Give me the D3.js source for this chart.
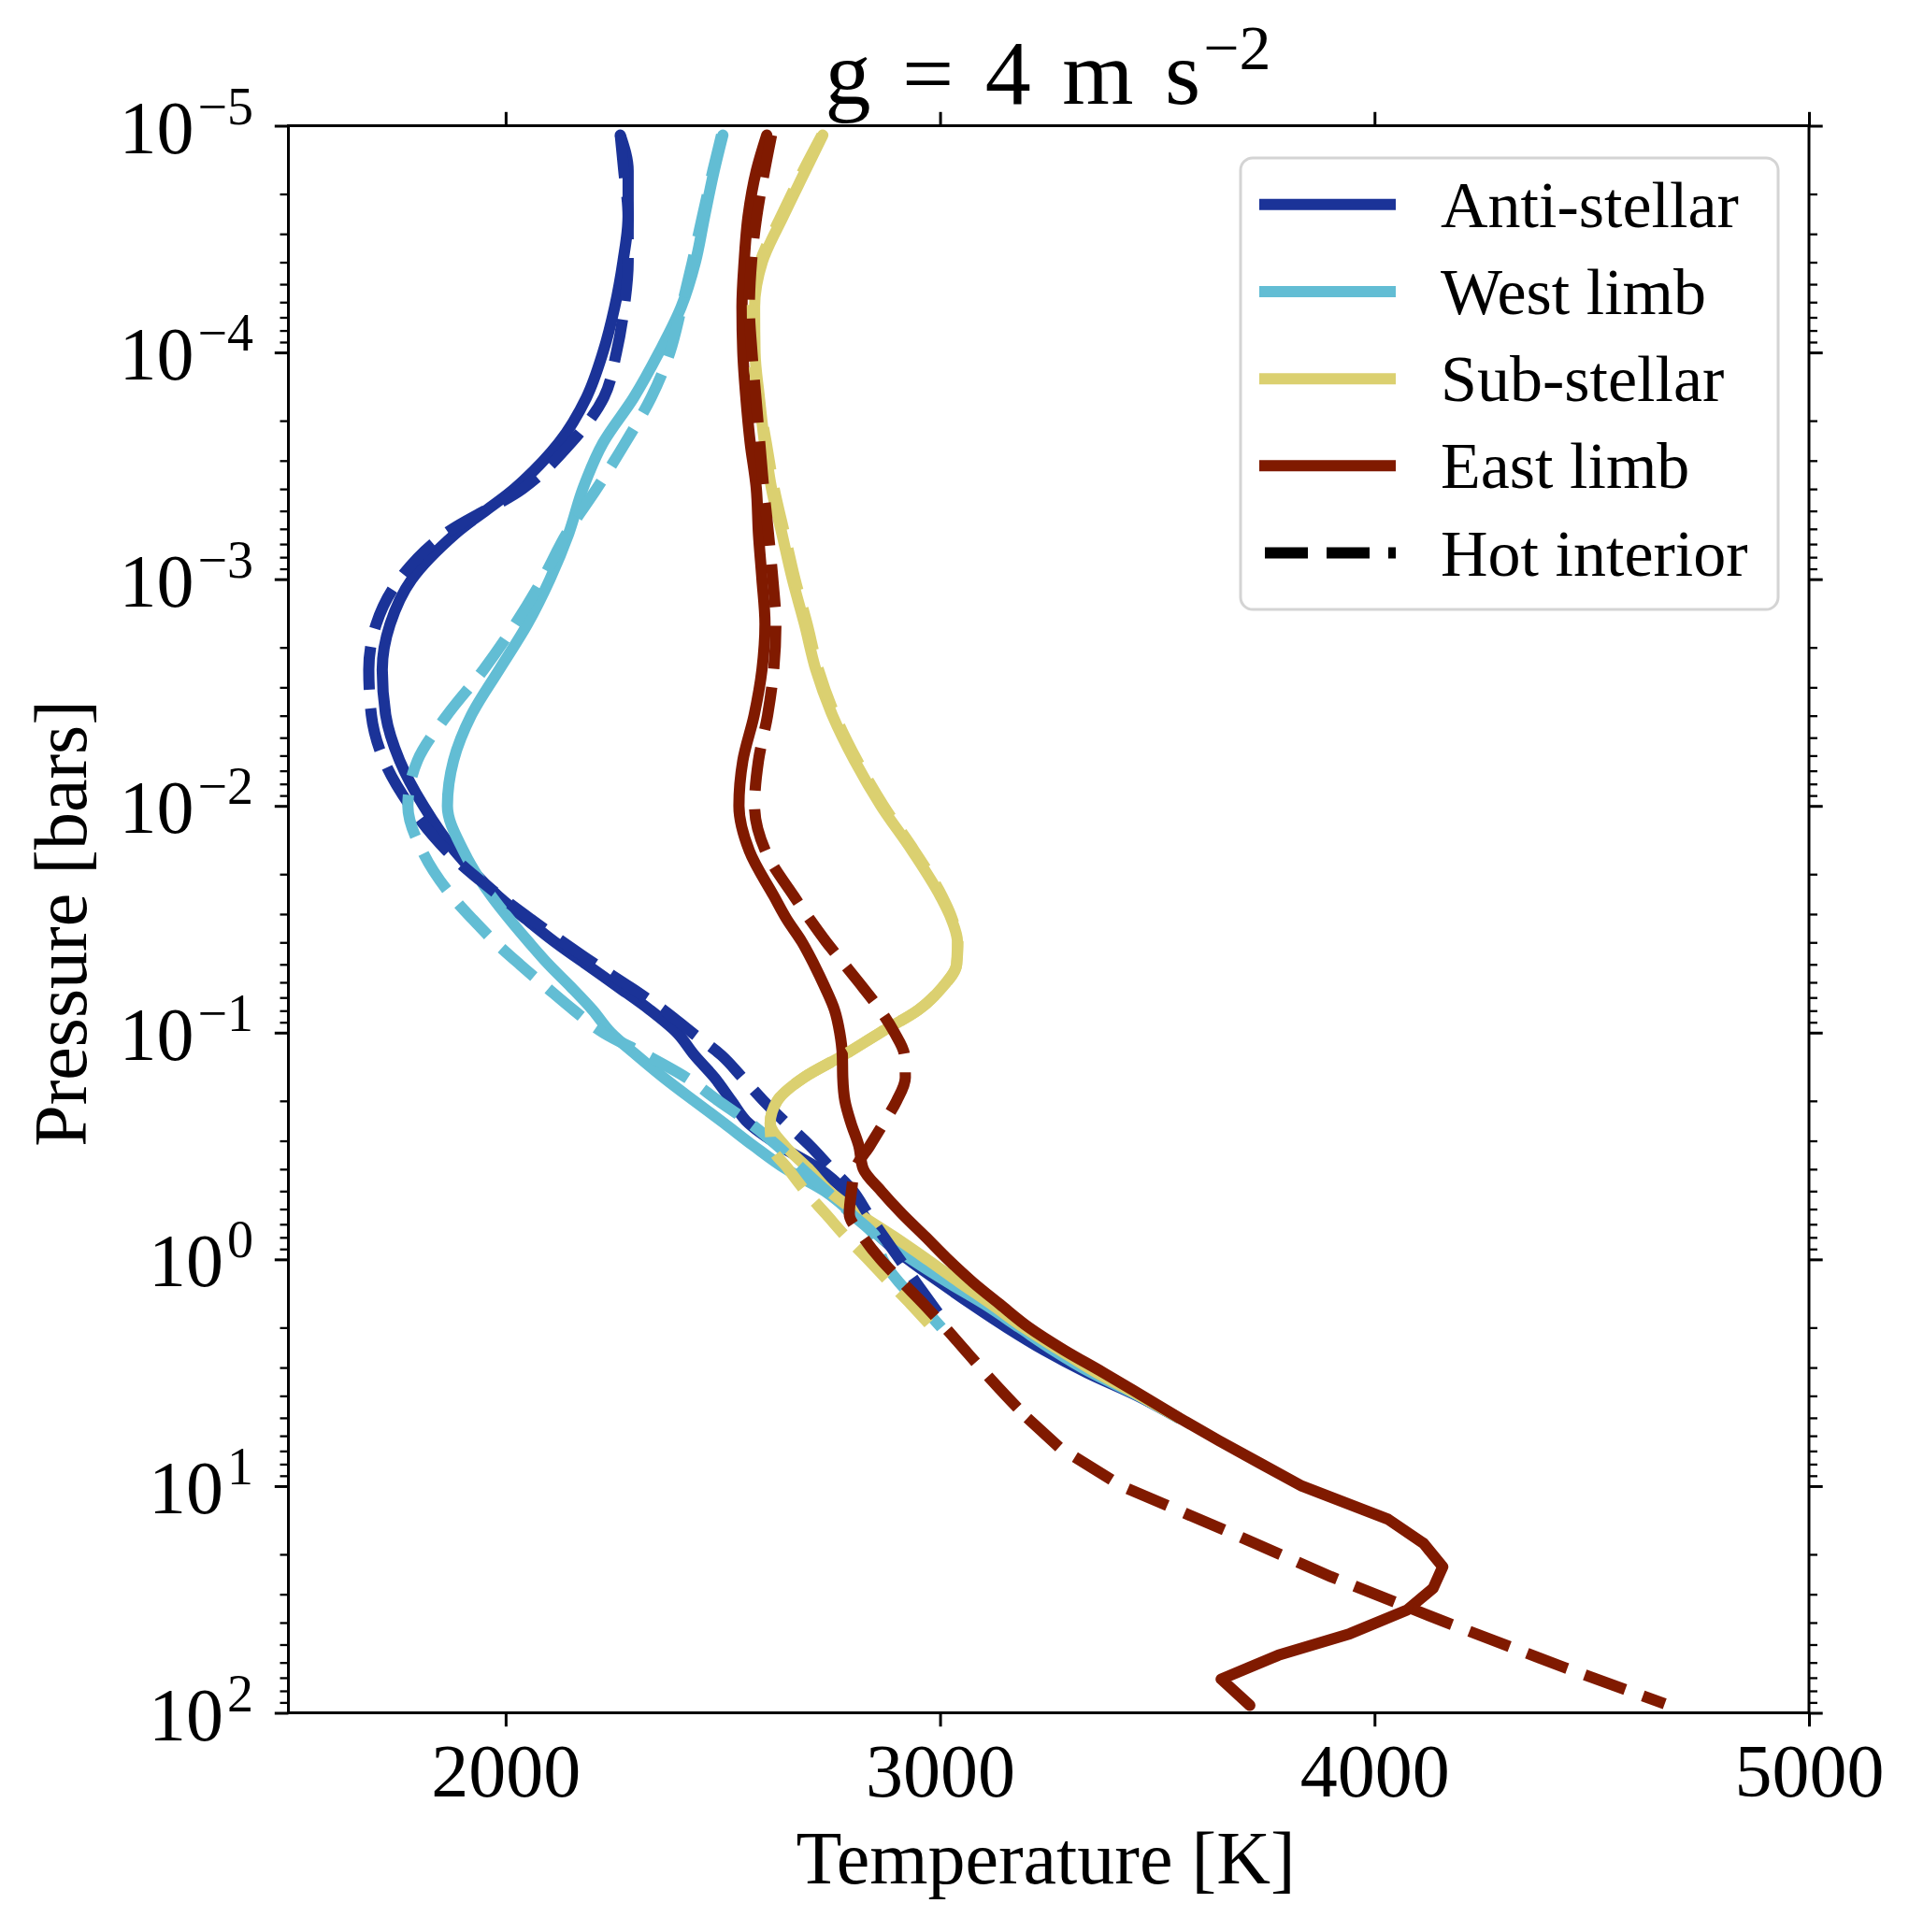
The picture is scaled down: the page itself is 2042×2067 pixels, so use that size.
<!DOCTYPE html>
<html>
<head>
<meta charset="utf-8">
<script src="https://cdn.jsdelivr.net/npm/d3@7"></script>
<style>
  body { margin: 0; background: #fff; }
  text { font-family: 'Liberation Serif', 'Times New Roman', serif; fill: #000; }
</style>
</head>
<body>
<div id="graf"></div>
<script>
// pressure levels [bar] shared by the profiles
const pressure = [1.1e-5, 1.58e-5, 2.51e-5, 3.98e-5, 6.31e-5, 1e-4, 1.58e-4, 2.51e-4, 3.98e-4, 6.31e-4,
  1e-3, 1.58e-3, 2.51e-3, 3.98e-3, 6.31e-3, 0.01, 0.0158, 0.0251, 0.0316, 0.0398,
  0.0501, 0.0631, 0.0794, 0.1, 0.126, 0.158, 0.2, 0.251, 0.316, 0.398,
  0.501, 0.631, 0.794, 1, 1.26, 1.58, 2, 2.51, 3.16, 3.98, 5.01]

// temperatures [K], solid = nominal, hot = hot interior
const antiStellar = [2264, 2282, 2282, 2270, 2251, 2224, 2186, 2122, 2021, 1884,
  1784, 1734, 1716, 1724, 1756, 1811, 1883, 1984, 2047, 2113,
  2186, 2260, 2332, 2394, 2435, 2481, 2520, 2559, 2631, 2721,
  2782, 2822, 2862, 2926, 2999, 3073, 3154, 3239, 3338, 3452, 3549]
const antiStellarHot = [2264, 2272, 2282, 2282, 2273, 2255, 2226, 2150, 2040, 1861,
  1756, 1702, 1685, 1691, 1720, 1780, 1865, 1988, 2058, 2131,
  2207, 2287, 2363, 2429, 2497, 2545, 2594, 2646, 2701, 2750,
  2800, 2834, 2870, 2907, 2944, 2981, 3020, null, null, null, null]

const westLimb = [2500, 2480, 2458, 2437, 2404, 2353, 2295, 2224, 2178, 2145,
  2102, 2050, 1985, 1921, 1880, 1866, 1903, 1968, 2009, 2053,
  2099, 2151, 2200, 2242, 2302, 2364, 2434, 2503, 2571, 2644,
  2735, 2800, 2861, 2934, 3017, 3103, 3183, 3260, 3348, 3455, 3549]
const westLimbHot = [2497, 2477, 2453, 2430, 2405, 2378, 2335, 2275, 2210, 2140,
  2085, 2022, 1949, 1865, 1797, 1775, 1808, 1877, 1924, 1975,
  2033, 2094, 2156, 2225, 2325, 2416, 2490, 2563, 2626, 2682,
  2739, 2796, 2852, 2868, 2905, 2955, 3003, null, null, null, null]

const subStellar = [2730, 2690, 2639, 2591, 2573, 2574, 2584, 2596, 2612, 2636,
  2660, 2688, 2714, 2752, 2803, 2864, 2936, 3001, 3026, 3040,
  3038, 3005, 2950, 2862, 2777, 2686, 2625, 2609, 2643, 2697,
  2745, 2814, 2894, 2970, 3044, 3119, 3193, 3275, 3360, 3458, 3550]
const subStellarHot = [2728, 2685, 2634, 2586, 2568, 2570, 2582, 2600, 2618, 2642,
  2666, 2694, 2720, 2758, 2809, 2870, 2941, 3005, 3028, 3041,
  3038, 3005, 2950, 2862, 2777, 2686, 2625, 2609, 2612, 2650,
  2690, 2737, 2783, 2834, 2883, 2933, 2982, null, null, null, null]

const eastLimb = [2601, 2577, 2558, 2549, 2544, 2546, 2553, 2563, 2577, 2582,
  2590, 2597, 2590, 2572, 2546, 2537, 2561, 2618, 2647, 2682,
  2710, 2735, 2757, 2769, 2775, 2776, 2781, 2795, 2813, 2823,
  2865, 2913, 2966, 3018, 3075, 3138, 3205, 3285, 3376, 3464, 3551]
const eastLimbHot = [2612, 2596, 2578, 2566, 2561, 2567, 2576, 2585, 2594, 2605,
  2615, 2622, 2617, 2603, 2582, 2573, 2598, 2664, 2700, 2738,
  2780, 2822, 2862, 2895, 2918, 2920, 2900, 2870, 2838, 2805,
  2796, 2791, 2822, 2863, 2913, 2963, 3012, 3057, 3103, 3151, 3201]

// deep part of the east limb profiles
const eastDeepP = [6.31, 7.94, 10, 14.0, 17.9, 22.7, 28.2, 35.2, 44.8, 55.7, 71.0, 92.7]
const eastDeepT = [3642, 3737, 3833, 4031, 4113, 4157, 4135, 4075, 3943, 3779, 3647, 3713]
const eastHotDeepP = [6.76, 10, 15.8, 25.1, 39.8, 63.1, 91.2]
const eastHotDeepT = [3275, 3418, 3660, 3900, 4163, 4437, 4668]

const seriesNames = ['Anti-stellar', 'West limb', 'Sub-stellar', 'East limb']
const seriesColors = ['#1b3398', '#62bdd4', '#dbd070', '#801a00']
const legendLabels = ['Anti-stellar', 'West limb', 'Sub-stellar', 'East limb', 'Hot interior']

const xTicks = [2000, 3000, 4000, 5000]
const yMajor = [1e-5, 1e-4, 1e-3, 1e-2, 1e-1, 1e0, 1e1, 1e2]
const yExpo = ['\u22125', '\u22124', '\u22123', '\u22122', '\u22121', '0', '1', '2']

const anchoTotal = 2042
const altoTotal = 2067
const margin = { top: 134.5, bottom: 234.5, left: 308.5, right: 107 }
const ancho = anchoTotal - margin.left - margin.right
const alto = altoTotal - margin.top - margin.bottom

const svg = d3.select('#graf')
  .append('svg')
  .attr('width', anchoTotal)
  .attr('height', altoTotal)

svg.append('rect')
  .attr('width', anchoTotal)
  .attr('height', altoTotal)
  .attr('fill', '#ffffff')

const g = svg.append('g')
  .attr('transform', `translate(${margin.left}, ${margin.top})`)

const x = d3.scaleLinear().domain([1500, 5000]).range([0, ancho])
const y = d3.scaleLog().domain([1e-5, 1e2]).range([0, alto])

g.append('clipPath')
  .attr('id', 'recorte')
  .append('rect')
  .attr('width', ancho)
  .attr('height', alto)

function perfil(temps, deepP = [], deepT = []) {
  const arriba = temps.map((t, i) => ({ p: pressure[i], t: t }))
  const abajo = deepP.map((p, i) => ({ p: p, t: deepT[i] }))
  return { arriba, abajo }
}

const perfiles = [
  { ...perfil(antiStellar), color: 0, hot: false },
  { ...perfil(westLimb), color: 1, hot: false },
  { ...perfil(subStellar), color: 2, hot: false },
  { ...perfil(eastLimb, eastDeepP, eastDeepT), color: 3, hot: false },
  { ...perfil(antiStellarHot), color: 0, hot: true },
  { ...perfil(westLimbHot), color: 1, hot: true },
  { ...perfil(subStellarHot), color: 2, hot: true },
  { ...perfil(eastLimbHot, eastHotDeepP, eastHotDeepT), color: 3, hot: true },
]

const lineaSuave = d3.line()
  .defined((d) => d.t != null)
  .curve(d3.curveMonotoneY)
  .x((d) => x(d.t))
  .y((d) => y(d.p))

const lineaRecta = d3.line()
  .x((d) => x(d.t))
  .y((d) => y(d.p))

function trazo(d) {
  let camino = lineaSuave(d.arriba)
  if (d.abajo.length) {
    const ultimo = d.arriba[d.arriba.length - 1]
    camino += lineaRecta([ultimo, ...d.abajo])
  }
  return camino
}

const dashes = '46 20'

g.append('g')
  .attr('clip-path', 'url(#recorte)')
  .selectAll('path')
  .data(perfiles)
  .join('path')
  .attr('d', (d) => trazo(d))
  .attr('fill', 'none')
  .attr('stroke', (d) => seriesColors[d.color])
  .attr('stroke-width', 12)
  .attr('stroke-linejoin', 'round')
  .attr('stroke-linecap', (d) => (d.hot ? 'butt' : 'round'))
  .attr('stroke-dasharray', (d) => (d.hot ? dashes : null))

// !EJES
const tickMayor = 14.7
const tickMenor = 9
const yMinor = []
for (let e = -5; e < 2; e++) {
  for (let m = 2; m < 10; m++) yMinor.push(m * Math.pow(10, e))
}

function estiloEje(sel, grosor) {
  sel.select('.domain').remove()
  sel.selectAll('line').attr('stroke', '#000').attr('stroke-width', grosor)
}

const ejeX = g.append('g')
  .attr('transform', `translate(0, ${alto})`)
  .call(d3.axisBottom(x).tickValues(xTicks).tickSize(tickMayor).tickSizeOuter(0).tickFormat(d3.format('d')))
  .call((s) => estiloEje(s, 3))
ejeX.selectAll('text')
  .attr('y', 89.5)
  .attr('dy', null)
  .attr('font-size', 80)
  .attr('fill', '#000')

g.append('g')
  .call(d3.axisTop(x).tickValues(xTicks).tickSize(tickMayor).tickSizeOuter(0).tickFormat(''))
  .call((s) => estiloEje(s, 3))

g.append('g')
  .call(d3.axisLeft(y).tickValues(yMajor).tickSize(tickMayor).tickSizeOuter(0).tickFormat(''))
  .call((s) => estiloEje(s, 3))
g.append('g')
  .call(d3.axisLeft(y).tickValues(yMinor).tickSize(tickMenor).tickSizeOuter(0).tickFormat(''))
  .call((s) => estiloEje(s, 2.3))
g.append('g')
  .attr('transform', `translate(${ancho}, 0)`)
  .call(d3.axisRight(y).tickValues(yMajor).tickSize(tickMayor).tickSizeOuter(0).tickFormat(''))
  .call((s) => estiloEje(s, 3))
g.append('g')
  .attr('transform', `translate(${ancho}, 0)`)
  .call(d3.axisRight(y).tickValues(yMinor).tickSize(tickMenor).tickSizeOuter(0).tickFormat(''))
  .call((s) => estiloEje(s, 2.3))

const etiquetasY = g.append('g')
  .selectAll('text')
  .data(yMajor)
  .join('text')
  .attr('x', -37.5)
  .attr('y', (d) => y(d) + 29)
  .attr('text-anchor', 'end')
  .attr('font-size', 80)
etiquetasY.append('tspan').text('10')
etiquetasY.append('tspan')
  .attr('dx', 4)
  .attr('dy', -31)
  .attr('font-size', 56)
  .text((d, i) => yExpo[i])

g.append('rect')
  .attr('width', ancho)
  .attr('height', alto)
  .attr('fill', 'none')
  .attr('stroke', '#000')
  .attr('stroke-width', 3)

// !TITULO Y ETIQUETAS
const titulo = svg.append('text')
  .attr('x', 1121)
  .attr('y', 110.5)
  .attr('text-anchor', 'middle')
  .attr('font-size', 98)
  .attr('word-spacing', 9)
titulo.append('tspan').text('g = 4 m s')
titulo.append('tspan')
  .attr('dx', 3)
  .attr('dy', -37)
  .attr('font-size', 68)
  .text('\u22122')

svg.append('text')
  .attr('x', 1118.5)
  .attr('y', 2015)
  .attr('text-anchor', 'middle')
  .attr('font-size', 80)
  .text('Temperature [K]')

svg.append('text')
  .attr('transform', 'translate(92, 988) rotate(-90)')
  .attr('text-anchor', 'middle')
  .attr('font-size', 80)
  .text('Pressure [bars]')

// !LEYENDA
const leyenda = svg.append('g')
leyenda.append('rect')
  .attr('x', 1327)
  .attr('y', 169)
  .attr('width', 575)
  .attr('height', 483)
  .attr('rx', 13)
  .attr('fill', '#ffffff')
  .attr('fill-opacity', 0.8)
  .attr('stroke', '#d4d4d4')
  .attr('stroke-width', 3)

const filas = leyenda.selectAll('g.fila')
  .data(legendLabels)
  .join('g')
  .attr('class', 'fila')
  .attr('transform', (d, i) => `translate(0, ${218.75 + i * 93.2})`)

filas.append('line')
  .attr('x1', 1347)
  .attr('x2', 1493)
  .attr('stroke', (d, i) => (i < seriesColors.length ? seriesColors[i] : '#000'))
  .attr('stroke-width', 12)
  .attr('stroke-dasharray', (d, i) => (i < seriesColors.length ? null : dashes))
  .attr('stroke-dashoffset', (d, i) => (i < seriesColors.length ? null : 60))

filas.append('text')
  .attr('x', 1541)
  .attr('y', 24)
  .attr('font-size', 70)
  .text((d) => d)
</script>
</body>
</html>
